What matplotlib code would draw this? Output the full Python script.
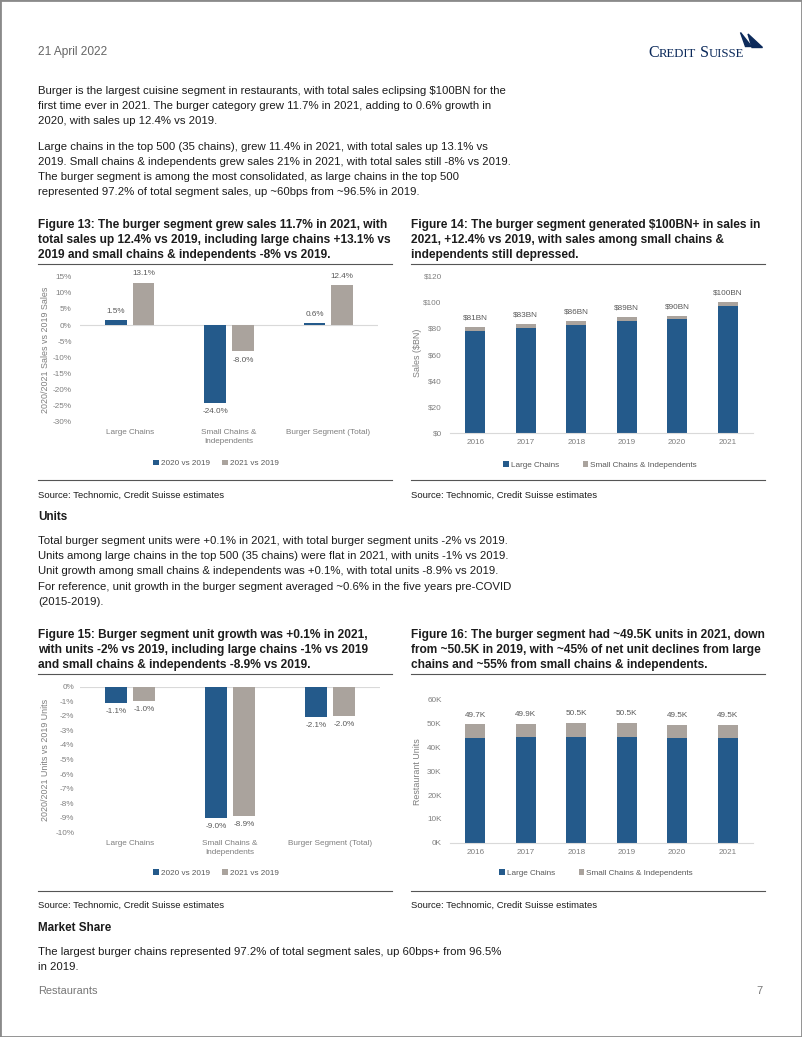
# burger_segment_page.py
# Rebuilds the "Restaurants" report page 7: four burger-segment charts plus text
# Output: out.png (802x1037)

import numpy as np
import matplotlib
matplotlib.use("Agg")
import matplotlib.pyplot as plt
from matplotlib.lines import Line2D
from matplotlib.patches import Polygon, Rectangle

# ---- data ----
seg_cats = ["Large Chains", "Small Chains &\nIndependents", "Burger Segment (Total)"]
sales_20_vs_19 = [1.5, -24.0, 0.6]
sales_21_vs_19 = [13.1, -8.0, 12.4]

years = ["2016", "2017", "2018", "2019", "2020", "2021"]
sales_large = [77.8, 80.0, 82.6, 85.5, 87.0, 96.9]   # $BN
sales_small = [2.9, 2.9, 3.0, 3.1, 2.6, 2.8]

units_20_vs_19 = [-1.1, -9.0, -2.1]
units_21_vs_19 = [-1.0, -8.9, -2.0]

units_large = [44.0, 44.3, 44.6, 44.6, 44.1, 44.1]   # thousands
units_small = [5.7, 5.6, 5.9, 5.9, 5.4, 5.4]

series_names = ["2020 vs 2019", "2021 vs 2019"]
stack_names = ["Large Chains", "Small Chains & Independents"]

BLUE = "#245a8b"
GREY = "#aaa39d"
TICK = "#7f7f7f"
LAB = "#595959"
BODY = "#1c1c1c"
NAVY = "#0c2a5b"

W, H = 802, 1037
plt.rcParams["font.family"] = ["Liberation Sans", "DejaVu Sans"]

fig = plt.figure(figsize=(W / 100, H / 100), dpi=100)
rend = fig.canvas.get_renderer()


def fx(x):
    return x / W


def fy(y):
    return 1 - y / H


def put(x, y, s, **kw):
    kw.setdefault("va", "center")
    return fig.text(fx(x), fy(y), s, **kw)


def hline(x0, x1, y, color="#555555", lw=0.8):
    fig.add_artist(Line2D([fx(x0), fx(x1)], [fy(y), fy(y)], color=color, lw=lw,
                          transform=fig.transFigure))


def add_ax(x0, y0, x1, y1):
    return fig.add_axes([fx(x0), fy(y1), (x1 - x0) / W, (y1 - y0) / H])


def style_ax(ax, ypad, xpad):
    for s in ax.spines.values():
        s.set_visible(False)
    ax.tick_params(length=0, labelsize=5.9, colors=TICK)
    ax.tick_params(axis="y", pad=ypad)
    ax.tick_params(axis="x", pad=xpad)


# ---- page frame + header ----
fig.add_artist(Rectangle((0, 0), 1, 1, transform=fig.transFigure, fill=False,
                         edgecolor="#8a8a8a", lw=2))
put(38, 51.5, "21 April 2022", fontsize=8.6, color="#666666")

# logo wordmark in small caps
x = 648
for s, size in (("C", 11.5), ("REDIT", 9.2), (" S", 11.5), ("UISSE", 9.2)):
    t = put(x, 56.7, s, fontsize=size, color=NAVY, va="baseline",
            family="Liberation Serif")
    x += t.get_window_extent(rend).width
for pts in ([(740.5, 32.5), (751.5, 46.5), (745.5, 46.5)],
            [(748, 34), (762.5, 47.5), (752, 47.5)]):
    fig.add_artist(Polygon([(fx(a), fy(b)) for a, b in pts], closed=True,
                           transform=fig.transFigure, color=NAVY))

para1 = [
    "Burger is the largest cuisine segment in restaurants, with total sales eclipsing $100BN for the",
    "first time ever in 2021. The burger category grew 11.7% in 2021, adding to 0.6% growth in",
    "2020, with sales up 12.4% vs 2019.",
]
para2 = [
    "Large chains in the top 500 (35 chains), grew 11.4% in 2021, with total sales up 13.1% vs",
    "2019. Small chains & independents grew sales 21% in 2021, with total sales still -8% vs 2019.",
    "The burger segment is among the most consolidated, as large chains in the top 500",
    "represented 97.2% of total segment sales, up ~60bps from ~96.5% in 2019.",
]
para3 = [
    "Total burger segment units were +0.1% in 2021, with total burger segment units -2% vs 2019.",
    "Units among large chains in the top 500 (35 chains) were flat in 2021, with units -1% vs 2019.",
    "Unit growth among small chains & independents was +0.1%, with total units -8.9% vs 2019.",
    "For reference, unit growth in the burger segment averaged ~0.6% in the five years pre-COVID",
    "(2015-2019).",
]
para4 = [
    "The largest burger chains represented 97.2% of total segment sales, up 60bps+ from 96.5%",
    "in 2019.",
]
for lines, y0 in ((para1, 91), (para2, 146.5), (para3, 541), (para4, 951.7)):
    for i, s in enumerate(lines):
        put(38, y0 + i * 15.2, s, fontsize=8.2, color=BODY)

put(38, 516.7, "Units", fontsize=8.4, color=BODY, fontweight="bold")
put(38, 928, "Market Share", fontsize=8.4, color=BODY, fontweight="bold")
put(38, 990.7, "Restaurants", fontsize=7.9, color="#777777")
put(763, 990.7, "7", fontsize=7.9, color="#777777", ha="right")

titles = {
    (38, 225): ["Figure 13: The burger segment grew sales 11.7% in 2021, with",
                "total sales up 12.4% vs 2019, including large chains +13.1% vs",
                "2019 and small chains & independents -8% vs 2019."],
    (411, 225): ["Figure 14: The burger segment generated $100BN+ in sales in",
                 "2021, +12.4% vs 2019, with sales among small chains &",
                 "independents still depressed."],
    (38, 635): ["Figure 15: Burger segment unit growth was +0.1% in 2021,",
                "with units -2% vs 2019, including large chains -1% vs 2019",
                "and small chains & independents -8.9% vs 2019."],
    (411, 635): ["Figure 16: The burger segment had ~49.5K units in 2021, down",
                 "from ~50.5K in 2019, with ~45% of net unit declines from large",
                 "chains and ~55% from small chains & independents."],
}
for (x, y), lines in titles.items():
    for i, s in enumerate(lines):
        put(x, y + i * 15, s, fontsize=8.6, color=BODY, fontweight="bold")

for y_ul, y_bl, y_src in ((263.5, 480, 495), (673.5, 891, 905.7)):
    for x0, x1 in ((38, 392), (411, 765)):
        hline(x0, x1, y_ul)
        hline(x0, x1, y_bl)
        put(x0, y_src, "Source: Technomic, Credit Suisse estimates", fontsize=6.8, color=BODY)


# ---- grouped bar charts (fig 13 / 15) ----
def grouped(ax, a, b, ylim, step, ylabel, lab_pad, ypad, xpad, legend_xy):
    x = np.arange(len(seg_cats))
    b1 = ax.bar(x - 0.14, a, 0.22, color=BLUE, label=series_names[0])
    b2 = ax.bar(x + 0.14, b, 0.22, color=GREY, label=series_names[1])
    ax.axhline(0, color="#d9d9d9", lw=0.8, zorder=0)
    ax.set_xlim(-0.5, len(seg_cats) - 0.5)
    ax.set_ylim(*ylim)
    ax.set_yticks(np.arange(ylim[0], ylim[1] + 0.1, step))
    ax.yaxis.set_major_formatter(lambda v, p: f"{v:.0f}%")
    ax.set_xticks(x)
    ax.set_xticklabels(seg_cats)
    for t in ax.get_xticklabels():
        t.set_linespacing(1.35)
    style_ax(ax, ypad, xpad)
    for bars, vals in ((b1, a), (b2, b)):
        ax.bar_label(bars, labels=[f"{v:.1f}%" for v in vals], padding=lab_pad,
                     fontsize=5.9, color=LAB)
    ax.set_ylabel(ylabel, fontsize=6.4, color=TICK)
    ax.yaxis.set_label_coords(-0.10, 0.5)
    ax.legend(loc="center", bbox_to_anchor=(fx(legend_xy[0]), fy(legend_xy[1])),
              bbox_transform=fig.transFigure, ncol=2, frameon=False, fontsize=5.9,
              labelcolor=LAB, handlelength=0.7, handleheight=0.7,
              handletextpad=0.25, columnspacing=1.5, borderpad=0)


ax13 = add_ax(80, 276.7, 378, 422)
grouped(ax13, sales_20_vs_19, sales_21_vs_19, (-30, 15), 5,
        "2020/2021 Sales vs 2019 Sales", 4, 6, 5, (216, 463.5))

ax15 = add_ax(80, 686.7, 380, 832.3)
grouped(ax15, units_20_vs_19, units_21_vs_19, (-10, 0), 1,
        "2020/2021 Units vs 2019 Units", 3.5, 4, 5.5, (216, 873))


# ---- stacked bar charts (fig 14 / 16) ----
def stacked(ax, low, high, ylim, step, fmt, lab_fmt, ylabel, legend_xy, ylab_y):
    x = np.arange(len(years))
    ax.bar(x, low, 0.4, color=BLUE, label=stack_names[0])
    top = ax.bar(x, high, 0.4, bottom=low, color=GREY, label=stack_names[1])
    totals = [l + h for l, h in zip(low, high)]
    ax.bar_label(top, labels=[lab_fmt(t) for t in totals], padding=4,
                 fontsize=5.9, color=LAB)
    ax.set_xlim(-0.5, len(years) - 0.5)
    ax.set_ylim(*ylim)
    ax.set_yticks(np.arange(ylim[0], ylim[1] + 0.1, step))
    ax.yaxis.set_major_formatter(fmt)
    ax.set_xticks(x)
    ax.set_xticklabels(years)
    style_ax(ax, 6, 4.3)
    ax.spines["bottom"].set_visible(True)
    ax.spines["bottom"].set_color("#d9d9d9")
    ax.spines["bottom"].set_linewidth(0.8)
    ax.set_ylabel(ylabel, fontsize=6.4, color=TICK)
    ax.yaxis.set_label_coords(-0.094, ylab_y)
    ax.legend(loc="center", bbox_to_anchor=(fx(legend_xy[0]), fy(legend_xy[1])),
              bbox_transform=fig.transFigure, ncol=2, frameon=False, fontsize=5.9,
              labelcolor=LAB, handlelength=0.7, handleheight=0.7,
              handletextpad=0.25, columnspacing=2.9, borderpad=0)


ax14 = add_ax(450, 275.7, 753, 433.3)
stacked(ax14, sales_large, sales_small, (0, 120), 20,
        lambda v, p: f"${v:.0f}", lambda t: f"${t:.0f}BN",
        "Sales ($BN)", (600, 465), 0.51)

ax16 = add_ax(450, 700, 753, 842.7)
stacked(ax16, units_large, units_small, (0, 60), 10,
        lambda v, p: f"{v:.0f}K", lambda t: f"{t:.1f}K",
        "Restaurant Units", (596, 873), 0.495)

fig.savefig("out.png", dpi=100)
